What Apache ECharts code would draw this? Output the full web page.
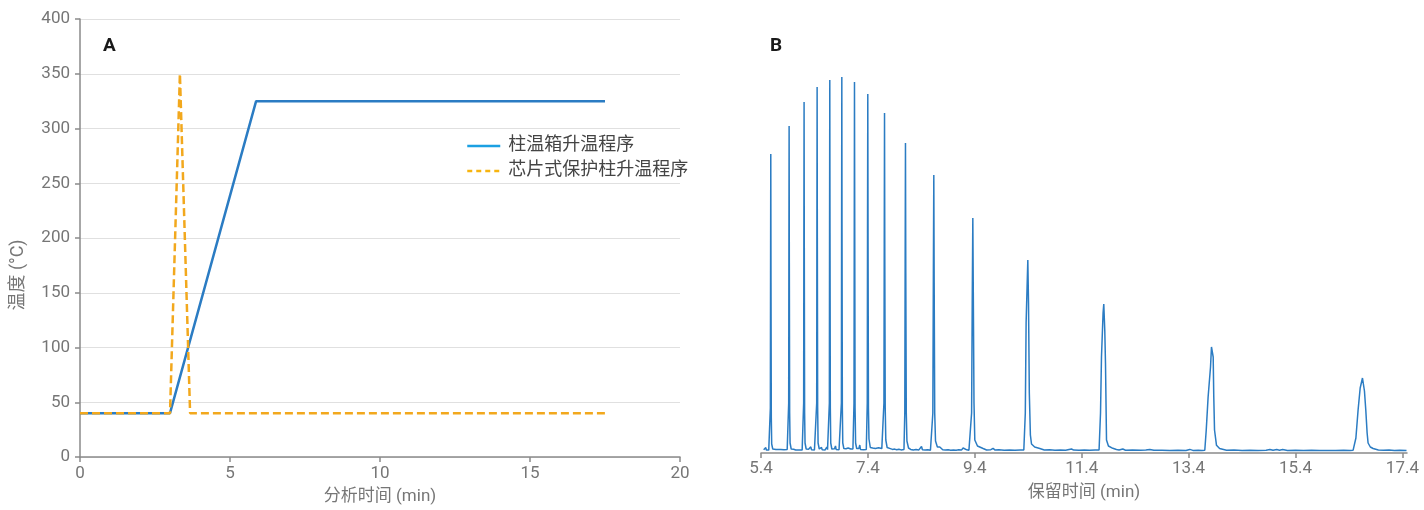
<!DOCTYPE html>
<html>
<head>
<meta charset="utf-8">
<script src="https://cdn.jsdelivr.net/npm/echarts@6/dist/echarts.min.js"></script>
<style>
  html, body { margin: 0; padding: 0; background: #fff; }
  #chart { width: 1424px; height: 510px; }
</style>
</head>
<body>
<div id="chart"></div>
<script>
// Panel A: temperature programmes (time in min, temperature in °C)
const ovenProgramName = '柱温箱升温程序';
const ovenProgram = [[0, 40], [3.0, 40], [5.87, 325], [17.5, 325]];
const guardProgramName = '芯片式保护柱升温程序';
const guardProgram = [[0, 40], [3.0, 40], [3.33, 350], [3.67, 40], [17.5, 40]];
const tempTicksX = [0, 5, 10, 15, 20];

// Panel B: chromatogram trace (retention time in min, detector signal)
const chromatogram = [
  [5.45,3.2],[5.47,3.0],[5.49,5.4],[5.50,3.0],[5.52,3.4],[5.545,2.9],[5.56,3.3],
  [5.567,3.2],[5.575,45],[5.579,180],[5.583,299],[5.587,170],[5.593,35],[5.60,9],[5.62,4],
  [5.65,3.1],[5.68,3.6],[5.70,2.9],[5.72,3.4],[5.733,4.5],[5.745,3.0],[5.77,3.5],[5.80,2.8],[5.83,3.3],[5.86,3.0],[5.89,3.6],
  [5.91,3.2],[5.918,50],[5.922,200],[5.926,327],[5.93,190],[5.936,40],[5.944,10],[5.965,4],
  [5.99,3.0],[6.01,3.8],[6.032,4.6],[6.05,3.0],[6.08,3.4],[6.11,2.9],[6.14,3.6],[6.17,3.1],
  [6.19,3.4],[6.198,50],[6.202,215],[6.206,351],[6.21,205],[6.216,40],[6.224,10],[6.245,4],
  [6.27,3.2],[6.29,3.8],[6.31,3.0],[6.332,6.2],[6.345,3.2],[6.37,3.5],[6.40,3.0],[6.42,3.8],
  [6.433,3.3],[6.442,50],[6.446,225],[6.450,366],[6.454,215],[6.46,45],[6.468,10],[6.49,4],
  [6.51,3.3],[6.532,5.6],[6.545,3.2],[6.57,3.6],[6.60,3.1],[6.631,6.0],[6.645,3.4],[6.66,3.8],
  [6.67,3.4],[6.679,50],[6.683,230],[6.687,373],[6.691,220],[6.697,45],[6.705,10],[6.725,4],
  [6.75,3.3],[6.775,4.2],[6.794,7.0],[6.805,3.6],[6.83,3.9],[6.86,3.2],[6.88,4.0],
  [6.895,3.5],[6.904,50],[6.908,230],[6.912,376],[6.916,220],[6.922,45],[6.93,10],[6.95,4.5],
  [6.97,3.4],[6.99,4.3],[7.01,3.3],[7.03,5.0],[7.05,3.4],[7.08,4.0],[7.10,3.2],[7.12,3.9],
  [7.13,3.5],[7.14,50],[7.145,230],[7.149,371],[7.154,220],[7.16,45],[7.17,10],[7.19,4.5],
  [7.21,3.4],[7.23,4.4],[7.248,8.0],[7.26,3.6],[7.29,4.0],[7.32,3.3],[7.35,4.1],[7.37,3.4],
  [7.378,3.6],[7.388,50],[7.393,220],[7.398,359],[7.403,210],[7.41,45],[7.42,14],[7.445,5.5],
  [7.47,4.0],[7.49,5.0],[7.51,3.6],[7.54,4.6],[7.57,3.5],[7.60,5.2],[7.63,3.8],[7.66,4.4],[7.68,3.6],
  [7.69,3.8],[7.70,50],[7.706,210],[7.711,340],[7.716,200],[7.724,45],[7.735,13],[7.76,5.5],
  [7.79,3.8],[7.82,4.4],[7.842,5.6],[7.86,3.6],[7.90,3.9],[7.94,3.2],[7.98,3.7],[8.02,3.1],[8.05,3.5],
  [8.075,3.4],[8.09,40],[8.097,190],[8.103,310],[8.109,180],[8.118,40],[8.13,12],[8.16,5],
  [8.20,3.6],[8.25,3.0],[8.30,3.4],[8.35,2.9],[8.38,3.5],[8.403,6.5],[8.42,3.2],[8.47,3.0],[8.52,3.3],[8.57,2.8],
  [8.60,3.0],[8.615,40],[8.625,180],[8.633,278],[8.64,170],[8.65,40],[8.665,12],[8.70,6],
  [8.72,4.5],[8.745,6.0],[8.76,4.2],[8.80,3.2],[8.85,2.9],[8.90,3.3],[8.95,2.8],[9.00,3.1],[9.05,2.8],[9.10,3.2],[9.15,2.9],[9.181,5.0],[9.20,3.0],[9.25,3.2],[9.29,2.8],
  [9.32,3.0],[9.34,40],[9.352,150],[9.363,235],[9.372,160],[9.385,50],[9.40,13],[9.45,7],[9.556,4.5],
  [9.62,3.0],[9.70,3.3],[9.742,4.6],[9.78,2.9],[9.85,3.2],[9.95,2.7],[10.05,3.0],[10.15,2.7],[10.25,2.9],
  [10.317,3.0],[10.345,40],[10.36,130],[10.392,193],[10.405,150],[10.42,60],[10.44,18],[10.461,9],[10.52,6],[10.616,4.5],
  [10.70,3.0],[10.80,3.2],[10.90,2.8],[11.00,3.0],[11.10,2.7],[11.209,4.0],[11.25,2.9],[11.35,2.7],[11.45,3.0],[11.55,2.7],[11.65,2.9],
  [11.725,3.0],[11.752,40],[11.770,96],[11.800,140],[11.813,149],[11.832,122],[11.845,90],[11.864,13],[11.90,7],[11.982,4.7],
  [12.05,3.5],[12.10,3.0],[12.169,4.0],[12.22,2.8],[12.35,3.0],[12.50,2.7],[12.60,3.1],[12.674,3.6],[12.75,2.7],[12.90,2.8],[13.05,2.6],[13.20,2.8],[13.35,2.6],[13.422,3.6],[13.48,2.6],[13.58,2.7],[13.65,2.6],
  [13.703,2.8],[13.73,23],[13.765,56],[13.81,86],[13.828,106],[13.86,96],[13.871,56],[13.885,23],[13.922,7.7],[13.98,4.5],[14.109,2.7],
  [14.25,2.9],[14.40,2.6],[14.55,2.8],[14.70,2.6],[14.85,2.8],[14.92,3.5],[14.98,2.7],[15.05,3.4],[15.10,2.8],[15.16,3.4],[15.25,2.6],[15.40,2.7],[15.55,2.5],[15.70,2.7],[15.85,2.5],[16.00,2.6],[16.15,2.5],[16.30,2.7],[16.42,2.5],
  [16.478,2.8],[16.53,15],[16.571,43],[16.61,65],[16.653,75],[16.69,62],[16.715,43],[16.74,20],[16.758,10],[16.80,6],[16.852,4.5],[16.95,3.0],
  [17.05,2.7],[17.15,3.0],[17.25,2.6],[17.35,2.8],[17.477,2.5]
];
const retentionTicks = [5.4, 7.4, 9.4, 11.4, 13.4, 15.4, 17.4];

const FONT = 'Roboto, "Noto Sans CJK SC", sans-serif';
const AXIS_GREY = '#8a8a8a';
const LABEL_GREY = '#767676';
const BLUE = '#2b7cc3';
const ORANGE = '#f2a81d';
const TICK_FONT = 17;
const NAME_FONT = 17;

const chart = echarts.init(document.getElementById('chart'), null, { renderer: 'canvas' });

chart.setOption({
  animation: false,
  backgroundColor: '#fff',
  textStyle: { fontFamily: FONT },
  title: [
    { text: 'A', left: 103, top: 37, padding: 0, textStyle: { fontSize: 19, fontWeight: 'bold', color: '#1a1a1a', fontFamily: FONT } },
    { text: 'B', left: 770, top: 37, padding: 0, textStyle: { fontSize: 19, fontWeight: 'bold', color: '#1a1a1a', fontFamily: FONT } }
  ],
  legend: {
    orient: 'vertical',
    left: 466,
    top: 137,
    padding: 0,
    itemWidth: 33,
    itemHeight: 14,
    itemGap: 7,
    textStyle: { fontSize: 18, color: '#444', fontFamily: FONT, padding: [0, 0, 0, 3] },
    data: [
      { name: ovenProgramName, itemStyle: { opacity: 0 }, lineStyle: { color: '#1ba0e2', width: 2.5, opacity: 1 } },
      { name: guardProgramName, itemStyle: { opacity: 0 }, lineStyle: { color: '#f7b40f', width: 2.5, type: [5, 4], opacity: 1 } }
    ]
  },
  graphic: [
    {
      type: 'text',
      x: 18, y: 275,
      rotation: Math.PI / 2,
      style: {
        text: '温度 (°C)',
        fontSize: 18,
        fontFamily: FONT,
        fill: LABEL_GREY,
        align: 'center',
        verticalAlign: 'middle'
      }
    }
  ],
  grid: [
    { left: 80, top: 19, width: 600, height: 438 },
    { left: 761, top: 19, width: 646, height: 434 }
  ],
  xAxis: [
    {
      gridIndex: 0,
      type: 'value',
      min: 0, max: 20, interval: 5,
      name: '分析时间 (min)',
      nameLocation: 'middle',
      nameGap: 31,
      nameTextStyle: { fontSize: NAME_FONT, color: LABEL_GREY, fontFamily: FONT },
      axisLine: { show: true, lineStyle: { color: AXIS_GREY, width: 1.5 } },
      axisTick: { show: true, length: 5, lineStyle: { color: AXIS_GREY, width: 1.5 }, customValues: tempTicksX },
      axisLabel: { fontSize: TICK_FONT, color: LABEL_GREY, margin: 8, fontFamily: FONT, customValues: tempTicksX },
      splitLine: { show: false }
    },
    {
      gridIndex: 1,
      type: 'value',
      min: 5.4, max: 17.486,
      name: '保留时间 (min)',
      nameLocation: 'middle',
      nameGap: 31,
      nameTextStyle: { fontSize: NAME_FONT, color: LABEL_GREY, fontFamily: FONT },
      axisLine: { show: true, lineStyle: { color: AXIS_GREY, width: 1.5 } },
      axisTick: { show: true, length: 5, lineStyle: { color: AXIS_GREY, width: 1.5 }, customValues: retentionTicks },
      axisLabel: {
        fontSize: TICK_FONT, color: LABEL_GREY, margin: 7, fontFamily: FONT,
        customValues: retentionTicks,
        formatter: v => v.toFixed(1)
      },
      splitLine: { show: false }
    }
  ],
  yAxis: [
    {
      gridIndex: 0,
      type: 'value',
      min: 0, max: 400, interval: 50,
      axisLine: { show: true, lineStyle: { color: AXIS_GREY, width: 1.5 } },
      axisTick: { show: true, length: 5, lineStyle: { color: AXIS_GREY, width: 1.5 } },
      axisLabel: { fontSize: TICK_FONT, color: LABEL_GREY, margin: 10, fontFamily: FONT },
      splitLine: { show: true, lineStyle: { color: '#e0e0e0', width: 1 } }
    },
    {
      gridIndex: 1,
      type: 'value',
      min: 0, max: 434,
      show: false,
      splitLine: { show: false }
    }
  ],
  series: [
    {
      name: ovenProgramName,
      type: 'line',
      xAxisIndex: 0, yAxisIndex: 0,
      data: ovenProgram,
      showSymbol: false,
      symbol: 'none',
      lineStyle: { color: BLUE, width: 2.5 },
      itemStyle: { color: BLUE },
      z: 2
    },
    {
      name: guardProgramName,
      type: 'line',
      xAxisIndex: 0, yAxisIndex: 0,
      data: guardProgram,
      showSymbol: false,
      symbol: 'none',
      lineStyle: { color: ORANGE, width: 2.5, type: [8, 4] },
      itemStyle: { color: ORANGE },
      z: 3
    },
    {
      name: 'chromatogram',
      type: 'line',
      xAxisIndex: 1, yAxisIndex: 1,
      data: chromatogram,
      showSymbol: false,
      symbol: 'none',
      lineStyle: { color: BLUE, width: 1.5 },
      itemStyle: { color: BLUE },
      z: 2
    }
  ]
});
</script>
</body>
</html>
